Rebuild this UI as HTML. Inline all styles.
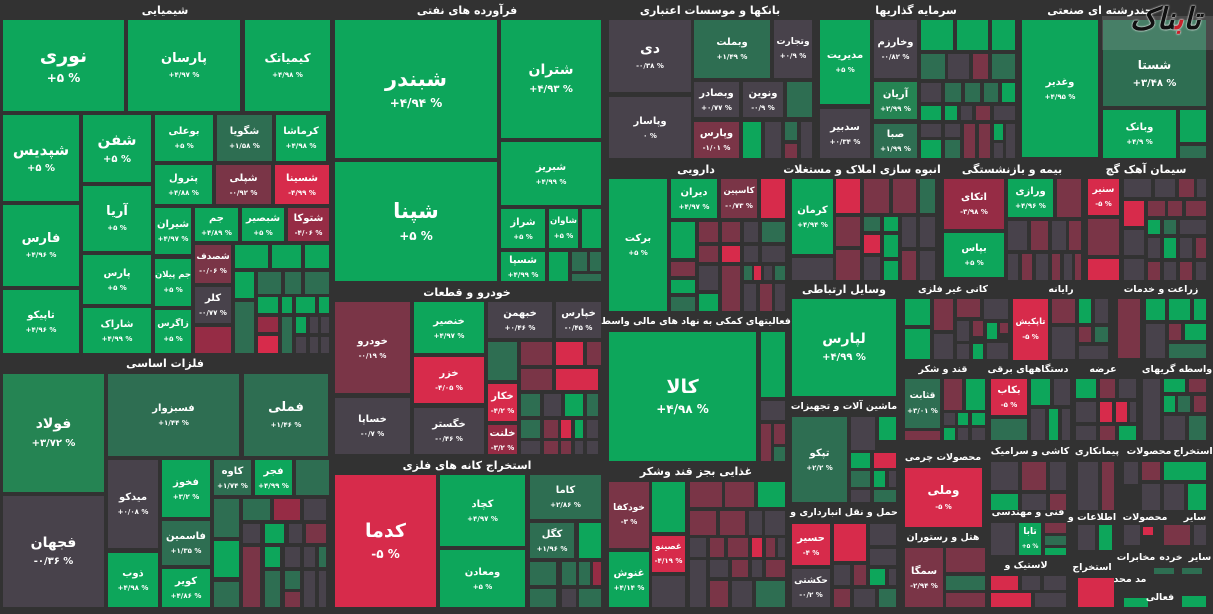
<!DOCTYPE html>
<html><head><meta charset="utf-8"><style>
body{margin:0;background:#323232;width:1213px;height:614px;overflow:hidden;position:relative;font-family:"DejaVu Sans",sans-serif}
.t{position:absolute;display:flex;flex-direction:column;align-items:center;justify-content:center;color:#fff;font-weight:bold;overflow:hidden;direction:rtl}
.t b{font-size:10px;line-height:1.1;white-space:nowrap}
.t i{font-style:normal;font-size:7px;margin-top:5px;direction:ltr;white-space:nowrap}
.g{background:#0da65b}.d{background:#2e6e52}.e{background:#258453}.k{background:#48424b}.m{background:#7a3547}.n{background:#962c45}.r{background:#d72b4b}
.h{position:absolute;color:#fff;font-weight:bold;font-size:11px;transform:translateX(-50%);white-space:nowrap;direction:rtl}
.s{font-size:9.5px}
</style></head><body>
<!-- titles -->
<div class="h" style="left:165px;top:4px">شیمیایی</div>
<div class="h" style="left:467px;top:4px">فرآورده های نفتی</div>
<div class="h" style="left:710px;top:4px">بانکها و موسسات اعتباری</div>
<div class="h" style="left:916px;top:4px">سرمایه گذاریها</div>
<div class="h" style="left:1100px;top:4px">چندرشته ای صنعتی</div>
<div class="h" style="left:165px;top:357px">فلزات اساسی</div>
<div class="h" style="left:467px;top:286px">خودرو و قطعات</div>
<div class="h" style="left:467px;top:459px">استخراج کانه های فلزی</div>
<div class="h" style="left:696px;top:163px">دارویی</div>
<div class="h" style="left:862px;top:163px">انبوه سازی املاک و مستغلات</div>
<div class="h" style="left:1012px;top:163px">بیمه و بازنشستگی</div>
<div class="h" style="left:1146px;top:163px">سیمان آهک گچ</div>
<div class="h s" style="left:696px;top:316px">فعالیتهای کمکی به نهاد های مالی واسط</div>
<div class="h" style="left:696px;top:465px">غذایی بجز قند وشکر</div>
<div class="h" style="left:844px;top:283px">وسایل ارتباطی</div>
<div class="h s" style="left:953px;top:284px">کانی غیر فلزی</div>
<div class="h s" style="left:1061px;top:284px">رایانه</div>
<div class="h s" style="left:1161px;top:284px">زراعت و خدمات</div>
<div class="h s" style="left:844px;top:401px">ماشین آلات و تجهیزات</div>
<div class="h s" style="left:844px;top:507px">حمل و نقل انبارداری و</div>
<div class="h s" style="left:943px;top:364px">قند و شکر</div>
<div class="h s" style="left:943px;top:452px">محصولات چرمی</div>
<div class="h s" style="left:943px;top:532px">هتل و رستوران</div>
<div class="h s" style="left:1028px;top:364px">دستگاههای برقی</div>
<div class="h s" style="left:1030px;top:446px">کاشی و سرامیک</div>
<div class="h s" style="left:1028px;top:507px">فنی و مهندسی</div>
<div class="h s" style="left:1026px;top:560px">لاستیک و</div>
<div class="h s" style="left:1103px;top:364px">عرضه</div>
<div class="h s" style="left:1177px;top:364px">واسطه گریهای</div>
<div class="h s" style="left:1097px;top:446px">پیمانکاری</div>
<div class="h s" style="left:1149px;top:446px">محصولات</div>
<div class="h s" style="left:1193px;top:446px">استخراج</div>
<div class="h s" style="left:1092px;top:512px">اطلاعات و</div>
<div class="h s" style="left:1145px;top:512px">محصولات</div>
<div class="h s" style="left:1195px;top:512px">سایر</div>
<div class="h s" style="left:1092px;top:562px">استخراج</div>
<div class="h s" style="left:1136px;top:552px">مخابرات</div>
<div class="h s" style="left:1171px;top:552px">خرده</div>
<div class="h s" style="left:1200px;top:552px">سایر</div>

<!-- Chemicals -->
<div class="t g" style="left:3px;top:20px;width:121px;height:91px"><b style="font-size:19px">نوری</b><i style="font-size:12px">+۵ %</i></div>
<div class="t g" style="left:128px;top:20px;width:112px;height:91px"><b style="font-size:13px">پارسان</b><i>+۴/۹۷ %</i></div>
<div class="t g" style="left:245px;top:20px;width:85px;height:91px"><b style="font-size:12px">کیمیاتک</b><i>+۴/۹۸ %</i></div>
<div class="t g" style="left:3px;top:115px;width:76px;height:86px"><b style="font-size:15px">شپدیس</b><i style="font-size:10px">+۵ %</i></div>
<div class="t g" style="left:83px;top:115px;width:68px;height:67px"><b style="font-size:15px">شفن</b><i style="font-size:10px">+۵ %</i></div>
<div class="t g" style="left:155px;top:115px;width:58px;height:46px"><b>بوعلی</b><i>+۵ %</i></div>
<div class="t d" style="left:217px;top:115px;width:55px;height:46px"><b>شگویا</b><i>+۱/۵۸ %</i></div>
<div class="t g" style="left:276px;top:115px;width:50px;height:46px"><b>کرماشا</b><i>+۴/۹۸ %</i></div>
<div class="t g" style="left:155px;top:165px;width:57px;height:39px"><b>پترول</b><i>+۴/۸۸ %</i></div>
<div class="t m" style="left:216px;top:165px;width:55px;height:39px"><b>شپلی</b><i>-۰/۹۲ %</i></div>
<div class="t r" style="left:275px;top:165px;width:54px;height:39px"><b>شسینا</b><i>-۴/۹۹ %</i></div>
<div class="t g" style="left:83px;top:186px;width:68px;height:65px"><b style="font-size:13px">آریا</b><i>+۵ %</i></div>
<div class="t g" style="left:3px;top:205px;width:76px;height:81px"><b style="font-size:13px">فارس</b><i>+۴/۹۶ %</i></div>
<div class="t g" style="left:155px;top:208px;width:36px;height:46px"><b>شیران</b><i>+۴/۹۷ %</i></div>
<div class="t g" style="left:195px;top:208px;width:43px;height:33px"><b>جم</b><i>+۴/۸۹ %</i></div>
<div class="t g" style="left:242px;top:208px;width:42px;height:33px"><b>شبصیر</b><i>+۵ %</i></div>
<div class="t n" style="left:288px;top:208px;width:41px;height:33px"><b>شتوکا</b><i>-۴/۰۶ %</i></div>
<div class="t g" style="left:83px;top:255px;width:68px;height:49px"><b>پارس</b><i>+۵ %</i></div>
<div class="t g" style="left:155px;top:259px;width:36px;height:47px"><b style="font-size:8.5px">جم پیلان</b><i>+۵ %</i></div>
<div class="t m" style="left:195px;top:245px;width:36px;height:38px"><b style="font-size:9px">شصدف</b><i>-۰/۰۶ %</i></div>
<div class="t k" style="left:195px;top:287px;width:36px;height:36px"><b>کلر</b><i>-۰/۷۷ %</i></div>
<div class="t n" style="left:195px;top:327px;width:36px;height:26px"></div>
<div class="t g" style="left:3px;top:290px;width:76px;height:63px"><b>تاپیکو</b><i>+۴/۹۶ %</i></div>
<div class="t g" style="left:83px;top:308px;width:68px;height:45px"><b>شاراک</b><i>+۴/۹۹ %</i></div>
<div class="t g" style="left:155px;top:310px;width:36px;height:43px"><b style="font-size:9px">زاگرس</b><i>+۵ %</i></div>
<div class="t g" style="left:235px;top:245px;width:33px;height:23px"></div>
<div class="t g" style="left:272px;top:245px;width:29px;height:23px"></div>
<div class="t g" style="left:305px;top:245px;width:24px;height:23px"></div>
<div class="t g" style="left:235px;top:272px;width:19px;height:26px"></div>
<div class="t d" style="left:258px;top:272px;width:23px;height:22px"></div>
<div class="t d" style="left:285px;top:272px;width:16px;height:22px"></div>
<div class="t d" style="left:305px;top:272px;width:24px;height:22px"></div>
<div class="t d" style="left:235px;top:302px;width:19px;height:51px"></div>
<div class="t g" style="left:258px;top:297px;width:20px;height:16px"></div>
<div class="t g" style="left:282px;top:297px;width:10px;height:16px"></div>
<div class="t g" style="left:296px;top:297px;width:19px;height:16px"></div>
<div class="t g" style="left:319px;top:297px;width:10px;height:16px"></div>
<div class="t n" style="left:258px;top:317px;width:20px;height:15px"></div>
<div class="t r" style="left:258px;top:336px;width:20px;height:17px"></div>
<div class="t d" style="left:282px;top:317px;width:10px;height:36px"></div>
<div class="t g" style="left:296px;top:317px;width:10px;height:16px"></div>
<div class="t k" style="left:310px;top:317px;width:8px;height:16px"></div>
<div class="t k" style="left:321px;top:317px;width:8px;height:16px"></div>
<div class="t k" style="left:296px;top:337px;width:10px;height:16px"></div>
<div class="t k" style="left:310px;top:337px;width:8px;height:16px"></div>
<div class="t k" style="left:321px;top:337px;width:8px;height:16px"></div>

<!-- Oil -->
<div class="t g" style="left:335px;top:20px;width:162px;height:138px"><b style="font-size:21px">شبندر</b><i style="font-size:12px">+۴/۹۴ %</i></div>
<div class="t g" style="left:335px;top:162px;width:162px;height:119px"><b style="font-size:21px">شپنا</b><i style="font-size:12px">+۵ %</i></div>
<div class="t g" style="left:501px;top:20px;width:100px;height:118px"><b style="font-size:14px">شتران</b><i style="font-size:10px">+۴/۹۳ %</i></div>
<div class="t g" style="left:501px;top:142px;width:100px;height:63px"><b>شبریز</b><i>+۴/۹۹ %</i></div>
<div class="t g" style="left:501px;top:209px;width:44px;height:39px"><b>شراز</b><i>+۵ %</i></div>
<div class="t g" style="left:549px;top:209px;width:29px;height:39px"><b style="font-size:8.5px">شاوان</b><i>+۵ %</i></div>
<div class="t g" style="left:582px;top:209px;width:19px;height:39px"></div>
<div class="t g" style="left:501px;top:252px;width:44px;height:29px"><b>شسپا</b><i>+۴/۹۹ %</i></div>
<div class="t g" style="left:549px;top:252px;width:19px;height:29px"></div>
<div class="t d" style="left:572px;top:252px;width:15px;height:19px"></div>
<div class="t d" style="left:590px;top:252px;width:11px;height:19px"></div>
<div class="t d" style="left:572px;top:274px;width:29px;height:7px"></div>

<!-- Auto -->
<div class="t m" style="left:335px;top:302px;width:75px;height:91px"><b>خودرو</b><i>-۰/۱۹ %</i></div>
<div class="t g" style="left:414px;top:302px;width:70px;height:51px"><b>خنصیر</b><i>+۴/۹۷ %</i></div>
<div class="t k" style="left:488px;top:302px;width:64px;height:36px"><b>خبهمن</b><i>+۰/۴۶ %</i></div>
<div class="t k" style="left:556px;top:302px;width:45px;height:36px"><b>خپارس</b><i>-۰/۴۵ %</i></div>
<div class="t r" style="left:414px;top:357px;width:70px;height:46px"><b>خزر</b><i>-۴/۰۵ %</i></div>
<div class="t k" style="left:335px;top:398px;width:75px;height:56px"><b>خساپا</b><i>-۰/۷ %</i></div>
<div class="t k" style="left:414px;top:408px;width:70px;height:46px"><b>خگستر</b><i>-۰/۴۶ %</i></div>
<div class="t d" style="left:488px;top:342px;width:29px;height:38px"></div>
<div class="t r" style="left:488px;top:384px;width:29px;height:37px"><b>خکار</b><i>-۴/۲ %</i></div>
<div class="t n" style="left:488px;top:425px;width:29px;height:29px"><b>خلنت</b><i>-۳/۲ %</i></div>
<div class="t m" style="left:521px;top:342px;width:31px;height:23px"></div>
<div class="t r" style="left:556px;top:342px;width:27px;height:23px"></div>
<div class="t m" style="left:587px;top:342px;width:14px;height:23px"></div>
<div class="t m" style="left:521px;top:369px;width:31px;height:21px"></div>
<div class="t r" style="left:556px;top:369px;width:42px;height:21px"></div>
<div class="t d" style="left:521px;top:394px;width:19px;height:22px"></div>
<div class="t k" style="left:544px;top:394px;width:17px;height:22px"></div>
<div class="t g" style="left:565px;top:394px;width:18px;height:22px"></div>
<div class="t d" style="left:587px;top:394px;width:11px;height:22px"></div>
<div class="t d" style="left:521px;top:420px;width:19px;height:18px"></div>
<div class="t m" style="left:544px;top:420px;width:14px;height:18px"></div>
<div class="t r" style="left:561px;top:420px;width:10px;height:18px"></div>
<div class="t g" style="left:575px;top:420px;width:8px;height:18px"></div>
<div class="t k" style="left:587px;top:420px;width:11px;height:18px"></div>
<div class="t k" style="left:521px;top:441px;width:19px;height:13px"></div>
<div class="t m" style="left:544px;top:441px;width:14px;height:13px"></div>
<div class="t m" style="left:561px;top:441px;width:10px;height:13px"></div>
<div class="t k" style="left:575px;top:441px;width:8px;height:13px"></div>
<div class="t k" style="left:587px;top:441px;width:11px;height:13px"></div>

<!-- Metals -->
<div class="t e" style="left:3px;top:374px;width:101px;height:118px"><b style="font-size:14px">فولاد</b><i style="font-size:10px">+۳/۷۲ %</i></div>
<div class="t k" style="left:3px;top:496px;width:101px;height:111px"><b style="font-size:14px">فجهان</b><i style="font-size:10px">-۰/۳۶ %</i></div>
<div class="t d" style="left:108px;top:374px;width:131px;height:82px"><b>فسبزوار</b><i>+۱/۴۴ %</i></div>
<div class="t d" style="left:244px;top:374px;width:84px;height:82px"><b style="font-size:13px">فملی</b><i>+۱/۴۶ %</i></div>
<div class="t k" style="left:108px;top:460px;width:50px;height:88px"><b>میدکو</b><i>+۰/۰۸ %</i></div>
<div class="t g" style="left:108px;top:553px;width:50px;height:54px"><b>ذوب</b><i>+۴/۹۸ %</i></div>
<div class="t g" style="left:162px;top:460px;width:48px;height:57px"><b>فخوز</b><i>+۳/۲ %</i></div>
<div class="t d" style="left:162px;top:521px;width:48px;height:44px"><b>فاسمین</b><i>+۱/۳۵ %</i></div>
<div class="t g" style="left:162px;top:569px;width:48px;height:38px"><b>کویر</b><i>+۴/۸۶ %</i></div>
<div class="t d" style="left:214px;top:460px;width:37px;height:35px"><b>کاوه</b><i>+۱/۷۴ %</i></div>
<div class="t g" style="left:255px;top:460px;width:37px;height:35px"><b>فجر</b><i>+۴/۹۹ %</i></div>
<div class="t d" style="left:296px;top:460px;width:33px;height:35px"></div>
<div class="t d" style="left:214px;top:499px;width:25px;height:38px"></div>
<div class="t d" style="left:243px;top:499px;width:27px;height:21px"></div>
<div class="t n" style="left:274px;top:499px;width:26px;height:21px"></div>
<div class="t k" style="left:304px;top:499px;width:22px;height:21px"></div>
<div class="t k" style="left:243px;top:524px;width:17px;height:19px"></div>
<div class="t g" style="left:265px;top:524px;width:19px;height:19px"></div>
<div class="t k" style="left:289px;top:524px;width:13px;height:19px"></div>
<div class="t m" style="left:306px;top:524px;width:20px;height:19px"></div>
<div class="t g" style="left:214px;top:541px;width:25px;height:36px"></div>
<div class="t d" style="left:214px;top:582px;width:25px;height:25px"></div>
<div class="t m" style="left:243px;top:547px;width:17px;height:60px"></div>
<div class="t g" style="left:265px;top:547px;width:15px;height:20px"></div>
<div class="t d" style="left:265px;top:571px;width:15px;height:36px"></div>
<div class="t k" style="left:285px;top:547px;width:15px;height:20px"></div>
<div class="t k" style="left:304px;top:547px;width:11px;height:20px"></div>
<div class="t d" style="left:319px;top:547px;width:7px;height:20px"></div>
<div class="t d" style="left:285px;top:571px;width:15px;height:18px"></div>
<div class="t m" style="left:285px;top:592px;width:15px;height:15px"></div>
<div class="t k" style="left:304px;top:571px;width:11px;height:36px"></div>
<div class="t k" style="left:319px;top:571px;width:7px;height:36px"></div>

<!-- Mines -->
<div class="t r" style="left:335px;top:475px;width:101px;height:132px"><b style="font-size:19px">کدما</b><i style="font-size:12px">-۵ %</i></div>
<div class="t g" style="left:440px;top:475px;width:85px;height:71px"><b>کچاد</b><i>+۴/۹۷ %</i></div>
<div class="t g" style="left:440px;top:550px;width:85px;height:57px"><b>ومعادن</b><i>+۵ %</i></div>
<div class="t d" style="left:530px;top:475px;width:71px;height:44px"><b>کاما</b><i>+۲/۸۶ %</i></div>
<div class="t d" style="left:530px;top:523px;width:44px;height:35px"><b>کگل</b><i>+۱/۹۶ %</i></div>
<div class="t g" style="left:579px;top:523px;width:22px;height:35px"></div>
<div class="t d" style="left:530px;top:562px;width:26px;height:23px"></div>
<div class="t d" style="left:562px;top:562px;width:14px;height:23px"></div>
<div class="t d" style="left:579px;top:562px;width:11px;height:23px"></div>
<div class="t n" style="left:593px;top:562px;width:8px;height:23px"></div>
<div class="t d" style="left:530px;top:589px;width:26px;height:18px"></div>
<div class="t k" style="left:562px;top:589px;width:14px;height:18px"></div>
<div class="t d" style="left:579px;top:589px;width:22px;height:18px"></div>

<!-- Banks -->
<div class="t k" style="left:609px;top:20px;width:82px;height:72px"><b style="font-size:14px">دی</b><i>-۰/۳۸ %</i></div>
<div class="t k" style="left:609px;top:97px;width:82px;height:61px"><b>وپاسار</b><i>۰ %</i></div>
<div class="t d" style="left:694px;top:20px;width:76px;height:58px"><b>وبملت</b><i>+۱/۴۹ %</i></div>
<div class="t k" style="left:774px;top:20px;width:38px;height:58px"><b style="font-size:9px">وتجارت</b><i>+۰/۹ %</i></div>
<div class="t k" style="left:694px;top:82px;width:45px;height:35px"><b>وبصادر</b><i>+۰/۷۷ %</i></div>
<div class="t k" style="left:743px;top:82px;width:40px;height:35px"><b>ونوین</b><i>-۰/۹ %</i></div>
<div class="t d" style="left:787px;top:82px;width:25px;height:35px"></div>
<div class="t m" style="left:694px;top:122px;width:45px;height:36px"><b>وپارس</b><i>-۱/۰۱ %</i></div>
<div class="t g" style="left:743px;top:122px;width:18px;height:36px"></div>
<div class="t k" style="left:765px;top:122px;width:16px;height:36px"></div>
<div class="t d" style="left:785px;top:122px;width:12px;height:18px"></div>
<div class="t m" style="left:785px;top:144px;width:12px;height:14px"></div>
<div class="t k" style="left:801px;top:122px;width:11px;height:36px"></div>

<!-- Investment -->
<div class="t g" style="left:820px;top:20px;width:50px;height:84px"><b>مدیریت</b><i>+۵ %</i></div>
<div class="t k" style="left:820px;top:109px;width:50px;height:49px"><b>سدبیر</b><i>+۰/۳۴ %</i></div>
<div class="t k" style="left:874px;top:20px;width:43px;height:58px"><b>وخارزم</b><i>-۰/۸۲ %</i></div>
<div class="t e" style="left:874px;top:82px;width:43px;height:37px"><b>آریان</b><i>+۲/۹۹ %</i></div>
<div class="t d" style="left:874px;top:124px;width:43px;height:34px"><b>صبا</b><i>+۱/۹۹ %</i></div>
<div class="t g" style="left:921px;top:20px;width:32px;height:30px"></div>
<div class="t g" style="left:957px;top:20px;width:31px;height:30px"></div>
<div class="t g" style="left:992px;top:20px;width:23px;height:30px"></div>
<div class="t d" style="left:921px;top:54px;width:24px;height:25px"></div>
<div class="t k" style="left:948px;top:54px;width:21px;height:25px"></div>
<div class="t m" style="left:973px;top:54px;width:15px;height:25px"></div>
<div class="t d" style="left:992px;top:54px;width:23px;height:25px"></div>
<div class="t k" style="left:921px;top:83px;width:20px;height:19px"></div>
<div class="t d" style="left:945px;top:83px;width:16px;height:19px"></div>
<div class="t d" style="left:965px;top:83px;width:15px;height:19px"></div>
<div class="t d" style="left:984px;top:83px;width:14px;height:19px"></div>
<div class="t g" style="left:1002px;top:83px;width:13px;height:19px"></div>
<div class="t g" style="left:921px;top:106px;width:20px;height:14px"></div>
<div class="t g" style="left:945px;top:106px;width:12px;height:14px"></div>
<div class="t k" style="left:961px;top:106px;width:11px;height:14px"></div>
<div class="t m" style="left:976px;top:106px;width:14px;height:14px"></div>
<div class="t k" style="left:994px;top:106px;width:21px;height:14px"></div>
<div class="t k" style="left:921px;top:124px;width:20px;height:13px"></div>
<div class="t g" style="left:921px;top:140px;width:20px;height:18px"></div>
<div class="t k" style="left:945px;top:124px;width:15px;height:13px"></div>
<div class="t d" style="left:945px;top:140px;width:15px;height:18px"></div>
<div class="t m" style="left:964px;top:124px;width:11px;height:34px"></div>
<div class="t m" style="left:979px;top:124px;width:11px;height:34px"></div>
<div class="t g" style="left:994px;top:124px;width:9px;height:16px"></div>
<div class="t k" style="left:1006px;top:124px;width:9px;height:34px"></div>
<div class="t k" style="left:994px;top:143px;width:9px;height:15px"></div>

<!-- Industrial -->
<div class="t g" style="left:1022px;top:20px;width:76px;height:137px"><b>وغدیر</b><i>+۴/۹۵ %</i></div>
<div class="t d" style="left:1103px;top:20px;width:103px;height:86px"><b style="font-size:12px;margin-top:22px">شستا</b><i style="font-size:10px">+۳/۴۸ %</i></div>
<div class="t g" style="left:1103px;top:110px;width:73px;height:48px"><b>وبانک</b><i>+۴/۹ %</i></div>
<div class="t g" style="left:1180px;top:110px;width:26px;height:32px"></div>
<div class="t d" style="left:1180px;top:146px;width:26px;height:12px"></div>
<div style="position:absolute;left:1102px;top:16px;width:111px;height:34px;background:rgba(255,255,255,0.12)"></div>
<div style="position:absolute;left:1130px;top:2px;font-family:'DejaVu Serif',serif;font-size:30px;font-style:italic;font-weight:bold;color:#111;text-shadow:0 0 2px #fff,0 0 1px #fff;direction:rtl">تا<span style="color:#c8202a">ب</span>ناک</div>

<!-- Pharma -->
<div class="t g" style="left:609px;top:179px;width:58px;height:132px"><b>برکت</b><i>+۵ %</i></div>
<div class="t g" style="left:671px;top:179px;width:46px;height:39px"><b>دیران</b><i>+۴/۹۷ %</i></div>
<div class="t m" style="left:721px;top:179px;width:36px;height:39px"><b style="font-size:8.5px">کاسپین</b><i>-۰/۷۳ %</i></div>
<div class="t r" style="left:761px;top:179px;width:24px;height:39px"></div>
<div class="t g" style="left:671px;top:222px;width:24px;height:36px"></div>
<div class="t m" style="left:699px;top:222px;width:19px;height:20px"></div>
<div class="t m" style="left:722px;top:222px;width:18px;height:20px"></div>
<div class="t k" style="left:744px;top:222px;width:14px;height:20px"></div>
<div class="t d" style="left:762px;top:222px;width:23px;height:20px"></div>
<div class="t m" style="left:699px;top:246px;width:19px;height:16px"></div>
<div class="t r" style="left:722px;top:246px;width:18px;height:16px"></div>
<div class="t k" style="left:744px;top:246px;width:14px;height:16px"></div>
<div class="t k" style="left:762px;top:246px;width:23px;height:16px"></div>
<div class="t m" style="left:671px;top:262px;width:24px;height:14px"></div>
<div class="t g" style="left:671px;top:280px;width:24px;height:13px"></div>
<div class="t d" style="left:671px;top:297px;width:24px;height:14px"></div>
<div class="t k" style="left:699px;top:266px;width:19px;height:24px"></div>
<div class="t g" style="left:699px;top:294px;width:19px;height:17px"></div>
<div class="t m" style="left:722px;top:266px;width:18px;height:45px"></div>
<div class="t d" style="left:744px;top:266px;width:8px;height:14px"></div>
<div class="t r" style="left:754px;top:266px;width:7px;height:14px"></div>
<div class="t k" style="left:764px;top:266px;width:8px;height:14px"></div>
<div class="t d" style="left:775px;top:266px;width:10px;height:14px"></div>
<div class="t k" style="left:744px;top:284px;width:12px;height:27px"></div>
<div class="t m" style="left:760px;top:284px;width:12px;height:27px"></div>
<div class="t k" style="left:775px;top:284px;width:10px;height:27px"></div>

<!-- Fa'aliat -->
<div class="t g" style="left:609px;top:332px;width:147px;height:129px"><b style="font-size:19px">کالا</b><i style="font-size:12px">+۴/۹۸ %</i></div>
<div class="t g" style="left:761px;top:332px;width:24px;height:65px"></div>
<div class="t k" style="left:761px;top:401px;width:24px;height:19px"></div>
<div class="t m" style="left:761px;top:424px;width:10px;height:37px"></div>
<div class="t m" style="left:774px;top:424px;width:11px;height:20px"></div>
<div class="t d" style="left:774px;top:447px;width:11px;height:14px"></div>

<!-- Food -->
<div class="t m" style="left:609px;top:482px;width:40px;height:66px"><b style="font-size:9px">خودکفا</b><i>-۳ %</i></div>
<div class="t g" style="left:609px;top:552px;width:40px;height:55px"><b>غنوش</b><i>+۴/۱۴ %</i></div>
<div class="t g" style="left:652px;top:482px;width:33px;height:50px"></div>
<div class="t r" style="left:652px;top:536px;width:33px;height:36px"><b style="font-size:8.5px">غصینو</b><i>-۴/۱۹ %</i></div>
<div class="t k" style="left:652px;top:576px;width:33px;height:31px"></div>
<div class="t m" style="left:690px;top:482px;width:32px;height:25px"></div>
<div class="t m" style="left:725px;top:482px;width:29px;height:25px"></div>
<div class="t g" style="left:758px;top:482px;width:27px;height:25px"></div>
<div class="t m" style="left:690px;top:511px;width:26px;height:24px"></div>
<div class="t m" style="left:720px;top:511px;width:25px;height:24px"></div>
<div class="t k" style="left:749px;top:511px;width:13px;height:24px"></div>
<div class="t k" style="left:765px;top:511px;width:20px;height:24px"></div>
<div class="t k" style="left:690px;top:538px;width:16px;height:19px"></div>
<div class="t m" style="left:710px;top:538px;width:14px;height:19px"></div>
<div class="t m" style="left:728px;top:538px;width:20px;height:19px"></div>
<div class="t r" style="left:752px;top:538px;width:10px;height:19px"></div>
<div class="t m" style="left:766px;top:538px;width:9px;height:19px"></div>
<div class="t k" style="left:778px;top:538px;width:7px;height:19px"></div>
<div class="t k" style="left:690px;top:560px;width:16px;height:47px"></div>
<div class="t k" style="left:710px;top:560px;width:18px;height:17px"></div>
<div class="t m" style="left:732px;top:560px;width:16px;height:17px"></div>
<div class="t k" style="left:752px;top:560px;width:10px;height:17px"></div>
<div class="t m" style="left:766px;top:560px;width:19px;height:17px"></div>
<div class="t m" style="left:710px;top:581px;width:18px;height:26px"></div>
<div class="t k" style="left:732px;top:581px;width:20px;height:26px"></div>
<div class="t d" style="left:756px;top:581px;width:29px;height:26px"></div>

<!-- Construction -->
<div class="t g" style="left:792px;top:179px;width:41px;height:75px"><b>کرمان</b><i>+۴/۹۴ %</i></div>
<div class="t k" style="left:792px;top:258px;width:41px;height:22px"></div>
<div class="t r" style="left:836px;top:179px;width:24px;height:34px"></div>
<div class="t m" style="left:864px;top:179px;width:25px;height:34px"></div>
<div class="t m" style="left:893px;top:179px;width:23px;height:34px"></div>
<div class="t d" style="left:920px;top:179px;width:15px;height:34px"></div>
<div class="t m" style="left:836px;top:217px;width:24px;height:29px"></div>
<div class="t m" style="left:836px;top:250px;width:24px;height:30px"></div>
<div class="t d" style="left:864px;top:217px;width:16px;height:14px"></div>
<div class="t r" style="left:864px;top:235px;width:16px;height:18px"></div>
<div class="t k" style="left:864px;top:257px;width:16px;height:23px"></div>
<div class="t g" style="left:884px;top:217px;width:14px;height:14px"></div>
<div class="t g" style="left:884px;top:235px;width:14px;height:22px"></div>
<div class="t g" style="left:884px;top:261px;width:14px;height:19px"></div>
<div class="t k" style="left:902px;top:217px;width:14px;height:30px"></div>
<div class="t m" style="left:902px;top:251px;width:14px;height:29px"></div>
<div class="t k" style="left:920px;top:217px;width:15px;height:30px"></div>
<div class="t k" style="left:920px;top:251px;width:15px;height:29px"></div>

<!-- Insurance -->
<div class="t n" style="left:944px;top:179px;width:60px;height:50px"><b>اتکای</b><i>-۳/۹۸ %</i></div>
<div class="t g" style="left:944px;top:233px;width:60px;height:44px"><b>بپاس</b><i>+۵ %</i></div>
<div class="t g" style="left:1008px;top:179px;width:45px;height:38px"><b>ورازی</b><i>+۴/۹۶ %</i></div>
<div class="t m" style="left:1057px;top:179px;width:24px;height:38px"></div>
<div class="t k" style="left:1008px;top:221px;width:19px;height:29px"></div>
<div class="t m" style="left:1031px;top:221px;width:17px;height:29px"></div>
<div class="t k" style="left:1052px;top:221px;width:14px;height:29px"></div>
<div class="t m" style="left:1069px;top:221px;width:12px;height:29px"></div>
<div class="t k" style="left:1008px;top:254px;width:10px;height:26px"></div>
<div class="t m" style="left:1022px;top:254px;width:10px;height:26px"></div>
<div class="t k" style="left:1036px;top:254px;width:12px;height:26px"></div>
<div class="t m" style="left:1052px;top:254px;width:8px;height:26px"></div>
<div class="t k" style="left:1064px;top:254px;width:8px;height:26px"></div>
<div class="t m" style="left:1075px;top:254px;width:6px;height:26px"></div>

<!-- Cement -->
<div class="t r" style="left:1088px;top:179px;width:31px;height:36px"><b style="font-size:9px">سنیر</b><i>-۵ %</i></div>
<div class="t m" style="left:1088px;top:219px;width:31px;height:36px"></div>
<div class="t r" style="left:1088px;top:259px;width:31px;height:21px"></div>
<div class="t k" style="left:1124px;top:179px;width:27px;height:18px"></div>
<div class="t k" style="left:1155px;top:179px;width:20px;height:18px"></div>
<div class="t m" style="left:1179px;top:179px;width:15px;height:18px"></div>
<div class="t k" style="left:1197px;top:179px;width:9px;height:18px"></div>
<div class="t r" style="left:1124px;top:201px;width:20px;height:25px"></div>
<div class="t m" style="left:1148px;top:201px;width:17px;height:15px"></div>
<div class="t m" style="left:1168px;top:201px;width:14px;height:15px"></div>
<div class="t m" style="left:1186px;top:201px;width:20px;height:15px"></div>
<div class="t g" style="left:1148px;top:220px;width:12px;height:14px"></div>
<div class="t d" style="left:1164px;top:220px;width:12px;height:14px"></div>
<div class="t k" style="left:1180px;top:220px;width:26px;height:14px"></div>
<div class="t k" style="left:1124px;top:230px;width:20px;height:25px"></div>
<div class="t k" style="left:1148px;top:238px;width:12px;height:20px"></div>
<div class="t g" style="left:1164px;top:238px;width:12px;height:20px"></div>
<div class="t k" style="left:1180px;top:238px;width:12px;height:20px"></div>
<div class="t m" style="left:1196px;top:238px;width:10px;height:20px"></div>
<div class="t k" style="left:1124px;top:259px;width:20px;height:21px"></div>
<div class="t m" style="left:1148px;top:262px;width:12px;height:18px"></div>
<div class="t k" style="left:1164px;top:262px;width:12px;height:18px"></div>
<div class="t m" style="left:1180px;top:262px;width:12px;height:18px"></div>
<div class="t k" style="left:1196px;top:262px;width:10px;height:18px"></div>

<!-- Vasayel / Kani / Rayaneh / Zeraat -->
<div class="t g" style="left:792px;top:299px;width:104px;height:97px"><b style="font-size:14px">لپارس</b><i style="font-size:10px">+۴/۹۹ %</i></div>
<div class="t g" style="left:905px;top:299px;width:25px;height:26px"></div>
<div class="t g" style="left:905px;top:329px;width:25px;height:30px"></div>
<div class="t m" style="left:934px;top:299px;width:19px;height:31px"></div>
<div class="t k" style="left:934px;top:334px;width:19px;height:25px"></div>
<div class="t m" style="left:957px;top:299px;width:23px;height:18px"></div>
<div class="t k" style="left:984px;top:299px;width:24px;height:20px"></div>
<div class="t k" style="left:957px;top:321px;width:12px;height:20px"></div>
<div class="t m" style="left:973px;top:321px;width:10px;height:15px"></div>
<div class="t g" style="left:987px;top:323px;width:10px;height:16px"></div>
<div class="t m" style="left:1000px;top:323px;width:8px;height:10px"></div>
<div class="t k" style="left:957px;top:344px;width:12px;height:15px"></div>
<div class="t g" style="left:973px;top:344px;width:10px;height:15px"></div>
<div class="t k" style="left:987px;top:343px;width:21px;height:16px"></div>
<div class="t r" style="left:1013px;top:299px;width:35px;height:61px"><b style="font-size:8.5px">تاپکیش</b><i>-۵ %</i></div>
<div class="t m" style="left:1052px;top:299px;width:23px;height:24px"></div>
<div class="t g" style="left:1079px;top:299px;width:12px;height:24px"></div>
<div class="t k" style="left:1095px;top:299px;width:13px;height:24px"></div>
<div class="t k" style="left:1052px;top:327px;width:23px;height:32px"></div>
<div class="t m" style="left:1079px;top:327px;width:12px;height:15px"></div>
<div class="t d" style="left:1095px;top:327px;width:13px;height:15px"></div>
<div class="t k" style="left:1079px;top:346px;width:29px;height:13px"></div>
<div class="t m" style="left:1118px;top:299px;width:22px;height:59px"></div>
<div class="t g" style="left:1146px;top:299px;width:19px;height:21px"></div>
<div class="t g" style="left:1169px;top:299px;width:21px;height:21px"></div>
<div class="t g" style="left:1194px;top:299px;width:12px;height:21px"></div>
<div class="t k" style="left:1146px;top:324px;width:19px;height:34px"></div>
<div class="t m" style="left:1169px;top:324px;width:12px;height:16px"></div>
<div class="t g" style="left:1185px;top:324px;width:21px;height:16px"></div>
<div class="t d" style="left:1169px;top:344px;width:37px;height:14px"></div>

<!-- Machine / Haml -->
<div class="t d" style="left:792px;top:417px;width:55px;height:85px"><b>تپکو</b><i>+۲/۲ %</i></div>
<div class="t k" style="left:851px;top:417px;width:24px;height:33px"></div>
<div class="t g" style="left:879px;top:417px;width:17px;height:23px"></div>
<div class="t g" style="left:851px;top:453px;width:19px;height:15px"></div>
<div class="t r" style="left:874px;top:453px;width:22px;height:15px"></div>
<div class="t d" style="left:851px;top:471px;width:19px;height:16px"></div>
<div class="t g" style="left:874px;top:471px;width:11px;height:16px"></div>
<div class="t k" style="left:889px;top:471px;width:7px;height:16px"></div>
<div class="t k" style="left:851px;top:490px;width:19px;height:12px"></div>
<div class="t d" style="left:874px;top:490px;width:22px;height:12px"></div>
<div class="t r" style="left:792px;top:524px;width:38px;height:41px"><b>حسیر</b><i>-۴ %</i></div>
<div class="t k" style="left:792px;top:569px;width:38px;height:38px"><b style="font-size:9px">حکشتی</b><i>-۰/۲ %</i></div>
<div class="t r" style="left:834px;top:524px;width:32px;height:37px"></div>
<div class="t k" style="left:870px;top:524px;width:26px;height:21px"></div>
<div class="t k" style="left:870px;top:549px;width:26px;height:16px"></div>
<div class="t k" style="left:834px;top:565px;width:16px;height:20px"></div>
<div class="t m" style="left:854px;top:565px;width:12px;height:20px"></div>
<div class="t g" style="left:870px;top:569px;width:15px;height:16px"></div>
<div class="t k" style="left:889px;top:569px;width:7px;height:16px"></div>
<div class="t m" style="left:834px;top:589px;width:16px;height:18px"></div>
<div class="t k" style="left:854px;top:589px;width:21px;height:18px"></div>
<div class="t d" style="left:879px;top:589px;width:17px;height:18px"></div>

<!-- Lower right -->
<div class="t d" style="left:905px;top:379px;width:35px;height:49px"><b style="font-size:9px">قثابت</b><i>+۳/۰۱ %</i></div>
<div class="t m" style="left:905px;top:431px;width:35px;height:9px"></div>
<div class="t m" style="left:944px;top:379px;width:18px;height:31px"></div>
<div class="t g" style="left:966px;top:379px;width:19px;height:31px"></div>
<div class="t k" style="left:944px;top:413px;width:11px;height:12px"></div>
<div class="t g" style="left:958px;top:413px;width:10px;height:12px"></div>
<div class="t g" style="left:972px;top:413px;width:13px;height:12px"></div>
<div class="t g" style="left:944px;top:428px;width:11px;height:12px"></div>
<div class="t k" style="left:958px;top:428px;width:10px;height:12px"></div>
<div class="t k" style="left:972px;top:428px;width:13px;height:12px"></div>
<div class="t r" style="left:991px;top:379px;width:36px;height:36px"><b>بکاب</b><i>-۵ %</i></div>
<div class="t d" style="left:991px;top:419px;width:36px;height:21px"></div>
<div class="t g" style="left:1031px;top:379px;width:19px;height:26px"></div>
<div class="t k" style="left:1054px;top:379px;width:16px;height:26px"></div>
<div class="t k" style="left:1031px;top:409px;width:14px;height:31px"></div>
<div class="t g" style="left:1049px;top:409px;width:9px;height:31px"></div>
<div class="t k" style="left:1062px;top:409px;width:8px;height:31px"></div>
<div class="t g" style="left:1076px;top:379px;width:20px;height:19px"></div>
<div class="t m" style="left:1100px;top:379px;width:15px;height:19px"></div>
<div class="t k" style="left:1119px;top:379px;width:17px;height:19px"></div>
<div class="t k" style="left:1076px;top:402px;width:20px;height:20px"></div>
<div class="t r" style="left:1100px;top:402px;width:12px;height:20px"></div>
<div class="t r" style="left:1116px;top:402px;width:11px;height:20px"></div>
<div class="t k" style="left:1130px;top:402px;width:6px;height:20px"></div>
<div class="t k" style="left:1076px;top:426px;width:20px;height:14px"></div>
<div class="t m" style="left:1100px;top:426px;width:15px;height:14px"></div>
<div class="t g" style="left:1119px;top:426px;width:17px;height:14px"></div>
<div class="t k" style="left:1143px;top:379px;width:17px;height:61px"></div>
<div class="t g" style="left:1164px;top:379px;width:21px;height:13px"></div>
<div class="t m" style="left:1189px;top:379px;width:17px;height:13px"></div>
<div class="t g" style="left:1164px;top:396px;width:11px;height:16px"></div>
<div class="t d" style="left:1178px;top:396px;width:12px;height:16px"></div>
<div class="t m" style="left:1194px;top:396px;width:12px;height:16px"></div>
<div class="t k" style="left:1164px;top:416px;width:21px;height:24px"></div>
<div class="t d" style="left:1189px;top:416px;width:17px;height:24px"></div>

<div class="t r" style="left:905px;top:468px;width:77px;height:59px"><b style="font-size:12px">وملی</b><i>-۵ %</i></div>
<div class="t m" style="left:905px;top:548px;width:38px;height:59px"><b>سمگا</b><i>-۲/۹۴ %</i></div>
<div class="t m" style="left:946px;top:548px;width:39px;height:24px"></div>
<div class="t d" style="left:946px;top:576px;width:39px;height:14px"></div>
<div class="t m" style="left:946px;top:593px;width:39px;height:14px"></div>
<div class="t k" style="left:991px;top:462px;width:27px;height:28px"></div>
<div class="t m" style="left:1022px;top:462px;width:24px;height:28px"></div>
<div class="t k" style="left:1050px;top:462px;width:16px;height:28px"></div>
<div class="t g" style="left:991px;top:494px;width:27px;height:16px"></div>
<div class="t k" style="left:1022px;top:494px;width:24px;height:16px"></div>
<div class="t m" style="left:1050px;top:494px;width:16px;height:16px"></div>
<div class="t k" style="left:1078px;top:462px;width:20px;height:48px"></div>
<div class="t m" style="left:1102px;top:462px;width:12px;height:48px"></div>
<div class="t k" style="left:1124px;top:462px;width:14px;height:22px"></div>
<div class="t m" style="left:1142px;top:462px;width:18px;height:18px"></div>
<div class="t k" style="left:1142px;top:484px;width:18px;height:26px"></div>
<div class="t g" style="left:1164px;top:462px;width:42px;height:18px"></div>
<div class="t k" style="left:1164px;top:484px;width:20px;height:26px"></div>
<div class="t g" style="left:1188px;top:484px;width:18px;height:26px"></div>
<div class="t k" style="left:991px;top:523px;width:24px;height:32px"></div>
<div class="t g" style="left:1019px;top:523px;width:22px;height:32px"><b style="font-size:9px">تابا</b><i style="font-size:6px">+۵ %</i></div>
<div class="t m" style="left:1045px;top:523px;width:21px;height:10px"></div>
<div class="t d" style="left:1045px;top:536px;width:21px;height:9px"></div>
<div class="t g" style="left:1045px;top:548px;width:21px;height:7px"></div>
<div class="t k" style="left:1078px;top:525px;width:17px;height:25px"></div>
<div class="t g" style="left:1099px;top:525px;width:13px;height:25px"></div>
<div class="t k" style="left:1124px;top:525px;width:16px;height:20px"></div>
<div class="t r" style="left:1143px;top:527px;width:10px;height:8px"></div>
<div class="t m" style="left:1164px;top:525px;width:26px;height:20px"></div>
<div class="t k" style="left:1194px;top:525px;width:12px;height:20px"></div>
<div class="t r" style="left:991px;top:576px;width:27px;height:14px"></div>
<div class="t k" style="left:1022px;top:576px;width:18px;height:14px"></div>
<div class="t k" style="left:1044px;top:576px;width:22px;height:14px"></div>
<div class="t r" style="left:991px;top:593px;width:40px;height:14px"></div>
<div class="t k" style="left:1035px;top:593px;width:31px;height:14px"></div>
<div class="t r" style="left:1078px;top:578px;width:36px;height:29px"></div>
<div class="t g" style="left:1124px;top:598px;width:24px;height:9px"></div>
<div class="t d" style="left:1154px;top:568px;width:20px;height:6px"></div>
<div class="t d" style="left:1182px;top:568px;width:20px;height:6px"></div>
<div class="t g" style="left:1182px;top:596px;width:24px;height:11px"></div>
<div class="h s" style="left:1130px;top:574px">مد محد</div>
<div class="h s" style="left:1160px;top:592px">فعالی</div>
</body></html>
